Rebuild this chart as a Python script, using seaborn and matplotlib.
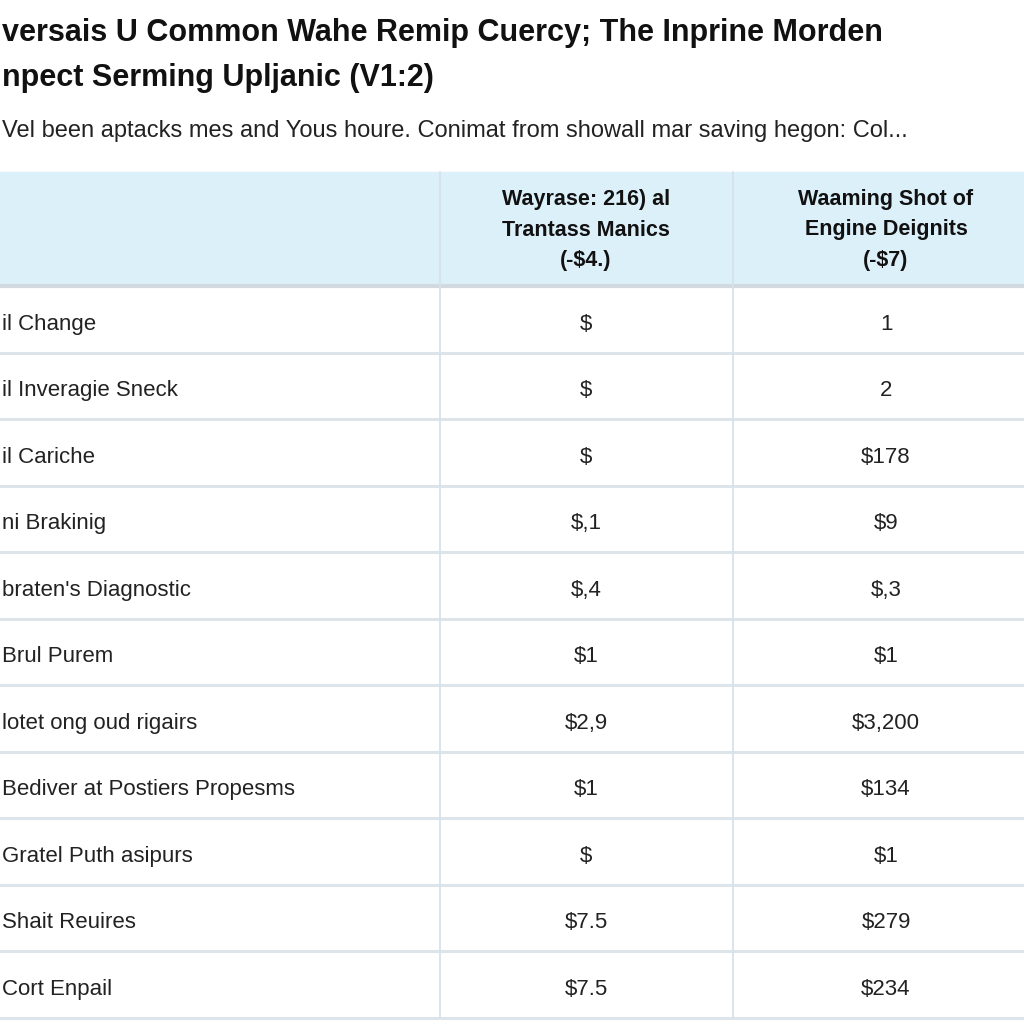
import matplotlib
matplotlib.use("Agg")
import matplotlib.pyplot as plt
import seaborn as sns
import pandas as pd

# ---- data ----
title_lines = ["versais U Common Wahe Remip Cuercy; The Inprine Morden",
               "npect Serming Upljanic (V1:2)"]
subtitle = "Vel been aptacks mes and Yous houre. Conimat from showall mar saving hegon: Col..."
col_headers = ["Wayrase: 216) al\nTrantass Manics\n(-$4.)",
               "Waaming Shot of\nEngine Deignits\n(-$7)"]
services = ["il Change", "il Inveragie Sneck", "il Cariche", "ni Brakinig",
            "braten's Diagnostic", "Brul Purem", "lotet ong oud rigairs",
            "Bediver at Postiers Propesms", "Gratel Puth asipurs",
            "Shait Reuires", "Cort Enpail"]
col1_values = ["$", "$", "$", "$,1", "$,4", "$1", "$2,9", "$1", "$", "$7.5", "$7.5"]
col2_values = ["1", "2", "$178", "$9", "$,3", "$1", "$3,200", "$134", "$1", "$279", "$234"]

table = pd.DataFrame({"service": services, "col1": col1_values, "col2": col2_values})

# ---- style ----
sns.set_theme(style="white")
plt.rcParams["font.family"] = ["Liberation Sans", "DejaVu Sans"]

fig = plt.figure(figsize=(10.24, 10.24), dpi=100)
ax = fig.add_axes([0, 0, 1, 1])
ax.set_xlim(0, 1024)
ax.set_ylim(1024, 0)
ax.axis("off")

# layout (pixels)
header_top, header_bot = 172, 286
row_h = 66.5
col_x = [0, 440, 733, 1024]
col_centers = [586, 886]
grid_col = "#dde5ea"

# title & subtitle
ax.text(2, 33, title_lines[0], fontsize=22, fontweight="bold", va="center", ha="left", color="#111111")
ax.text(2, 78, title_lines[1], fontsize=22, fontweight="bold", va="center", ha="left", color="#111111")
ax.text(2, 131, subtitle, fontsize=17, va="center", ha="left", color="#222222")

# header background
ax.axhspan(header_top, header_bot, xmin=0, xmax=1, color="#dcf0fa", zorder=0)
for i, h in enumerate(col_headers):
    ax.text(col_centers[i], 230, h, fontsize=15.5, fontweight="bold", ha="center", va="center",
            linespacing=1.62, color="#111111")

# rows
n = len(table)
for i, row in table.iterrows():
    yc = header_bot + row_h * (i + 0.5) + 5
    ax.text(2, yc, row["service"], fontsize=16, ha="left", va="center", color="#222222")
    ax.text(col_centers[0], yc, row["col1"], fontsize=16, ha="center", va="center", color="#222222")
    ax.text(col_centers[1], yc, row["col2"], fontsize=16, ha="center", va="center", color="#222222")

# grid lines
ax.axhline(header_bot, color="#d3dadf", lw=3.0, zorder=2)
for k in range(1, n + 1):
    ax.axhline(header_bot + row_h * k, color=grid_col, lw=2.2, zorder=2)
for x in col_x[1:3]:
    ax.plot([x, x], [header_top, header_bot + row_h * n], color="#d6e2ea", lw=1.3, zorder=2)

fig.savefig("out.png", dpi=100)
